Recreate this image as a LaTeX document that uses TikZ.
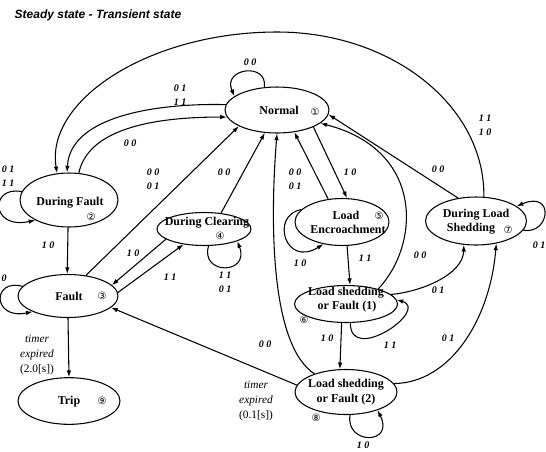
\documentclass[tikz,border=0pt]{standalone}
\usepackage{fontspec}
\setmainfont{Liberation Serif}
\newfontfamily\titulo{Liberation Sans}
\newfontfamily\cifra{DejaVu Sans}
\usetikzlibrary{arrows.meta,shapes.geometric}

\begin{document}
\begin{tikzpicture}[x=0.75pt, y=0.75pt,
    estado/.style={draw, ellipse, line width=0.8pt, inner sep=0pt},
    nombre/.style={font=\fontsize{9}{10}\selectfont\bfseries, inner sep=0pt},
    num/.style={font=\fontsize{7.5}{8}\selectfont\cifra, inner sep=0pt},
    rot/.style={font=\fontsize{7.5}{10.5}\selectfont\bfseries\itshape, align=center, inner sep=0pt},
    reloj/.style={font=\fontsize{8.5}{11}\selectfont\itshape, align=center, inner sep=0pt},
    flecha/.style={-{Latex[length=5pt,width=3.4pt]}, line width=0.8pt}]
  \useasboundingbox (0,0) rectangle (546,-451);
  \node[anchor=west, font=\fontsize{9}{10}\selectfont\titulo\bfseries\itshape] (titulo) at (10,-15) {Steady state - Transient state};
  % estados
  \node[estado, minimum width=78pt, minimum height=34.5pt] (normal) at (277,-110) {};
  \node[estado, minimum width=73.5pt, minimum height=40.5pt] (durfault) at (69,-200) {};
  \node[estado, minimum width=70.5pt, minimum height=24.75pt] (durclear) at (204,-229) {};
  \node[estado, minimum width=75pt, minimum height=32.25pt] (fault) at (68,-296) {};
  \node[estado, minimum width=76.5pt, minimum height=35pt] (trip) at (69,-401) {};
  \node[estado, minimum width=70.5pt, minimum height=35.25pt] (encroach) at (342,-222) {};
  \node[estado, minimum width=75.75pt, minimum height=36pt] (durshed) at (476,-221) {};
  \node[estado, minimum width=77.25pt, minimum height=27.75pt] (shedone) at (346,-304) {};
  \node[estado, minimum width=76.5pt, minimum height=33.75pt] (shedtwo) at (346,-392) {};
  % nombres
  \node[nombre] (tnormal) at (279,-110) {Normal};
  \node[num] (cnormal) at (315,-112) {①};
  \node[nombre] (tdurfault) at (70,-203) {During Fault};
  \node[num] (cdurfault) at (91,-217) {②};
  \node[nombre] (tdurclear) at (207,-223) {During Clearing};
  \node[num] (cdurclear) at (220,-236) {④};
  \node[nombre] (tfault) at (69,-296) {Fault};
  \node[num] (cfault) at (102,-296) {③};
  \node[nombre] (ttrip) at (69,-402) {Trip};
  \node[num] (ctrip) at (102,-401) {⑨};
  \node[nombre] (tencroach) at (346,-215) {Load};
  \node[num] (cencroach) at (379,-216) {⑤};
  \node[nombre] (tencroachb) at (348,-229) {Encroachment};
  \node[nombre] (tdurshed) at (476,-215) {During Load};
  \node[nombre] (tdurshedb) at (471,-229) {Shedding};
  \node[num] (cdurshed) at (508,-230) {⑦};
  \node[nombre] (tshedone) at (346,-293) {Load shedding};
  \node[nombre] (tshedoneb) at (347,-307) {or Fault (1)};
  \node[num] (cshedone) at (304,-320) {⑥};
  \node[nombre] (tshedtwo) at (346,-385) {Load shedding};
  \node[nombre] (tshedtwob) at (346,-400) {or Fault (2)};
  \node[num] (cshedtwo) at (316,-418) {⑧};
  % transiciones
  \draw[flecha] (normal.119) .. controls (268,-62) and (222,-68) .. (normal.162);
  \draw[flecha] (durshed.72) .. controls (485,-106) and (392,-32) .. (277,-32)
                .. controls (150,-32) and (45,-100) .. (durfault.114);
  \draw[flecha] (normal.174) .. controls (160,-103) and (70,-115) .. (durfault.94);
  \draw[flecha] (durfault.70) .. controls (88,-130) and (150,-117) .. (normal.188);
  \draw[flecha] (durfault.170) .. controls (-10,-185) and (-10,-230) .. (durfault.211);
  \draw[flecha] (durfault.268) -- (fault.92);
  \draw[flecha] (fault.168) .. controls (-8,-278) and (-8,-320) .. (fault.204);
  \draw[flecha] (fault.49) -- (normal.203);
  \draw[flecha] (durclear.43) -- (normal.242);
  \draw[flecha] (durclear.195) -- (fault.14);
  \draw[flecha] (fault.4) -- (durclear.217);
  \draw[flecha] (durclear.285) .. controls (200,-275) and (250,-275) .. (durclear.340);
  \draw[flecha] (fault.270) -- (trip.90);
  \draw[flecha] (shedtwo.172) -- (fault.345);
  \draw[flecha] (shedtwo.150) .. controls (270,-345) and (270,-220) .. (normal.270);
  \draw[flecha] (encroach.121) -- (normal.308);
  \draw[flecha] (normal.335) -- (encroach.78);
  \draw[flecha] (encroach.163) .. controls (270,-215) and (285,-268) .. (encroach.230);
  \draw[flecha] (encroach.282) -- (shedone.78);
  \draw[flecha] (shedone.25) .. controls (420,-245) and (425,-150) .. (normal.343);
  \draw[flecha] (durshed.128) -- (normal.355);
  \draw[flecha] (durshed.349) .. controls (550,-235) and (555,-190) .. (durshed.20);
  \draw[flecha] (shedone.12) .. controls (420,-292) and (463,-275) .. (durshed.243);
  \draw[flecha] (shedone.283) .. controls (350,-365) and (430,-310) .. (shedone.5);
  \draw[flecha] (shedone.257) -- (shedtwo.105);
  \draw[flecha] (shedtwo.10) .. controls (450,-383) and (490,-320) .. (durshed.312);
  \draw[flecha] (shedtwo.280) .. controls (345,-445) and (395,-445) .. (shedtwo.330);
  % rotulos
  \node[rot] (rnormal) at (250,-62) {0 0};
  \node[rot] (rnormdf) at (180,-95.5) {0 1\\1 1};
  \node[rot] (rdfnorm) at (130,-143) {0 0};
  \node[rot] (rarco) at (485,-125.5) {1 1\\1 0};
  \node[rot] (rdf) at (8,-176) {0 1\\1 1};
  \node[rot] (rdffault) at (48,-245) {1 0};
  \node[rot] (rfault) at (4,-278) {0};
  \node[rot] (rfaultnorm) at (153,-179.5) {0 0\\0 1};
  \node[rot] (rdcnorm) at (224,-172) {0 0};
  \node[rot] (rdcfault) at (133,-253) {1 0};
  \node[rot] (rfaultdc) at (170,-277) {1 1};
  \node[rot] (rdc) at (225,-282) {1 1\\0 1};
  \node[reloj] (rtrip) at (37,-355) {timer\\expired\\{\upshape (2.0[s])}};
  \node[reloj] (rtimer) at (256,-401) {timer\\expired\\{\upshape (0.1[s])}};
  \node[rot] (rtwonorm) at (265,-344) {0 0};
  \node[rot] (rencnorm) at (295,-179.5) {0 0\\0 1};
  \node[rot] (rnormenc) at (350,-172) {1 0};
  \node[rot] (renc) at (300,-263) {1 0};
  \node[rot] (rencone) at (365,-258) {1 1};
  \node[rot] (ronenorm) at (420,-255) {0 0};
  \node[rot] (rshednorm) at (438,-169) {0 0};
  \node[rot] (roneshed) at (438,-290) {0 1};
  \node[rot] (rshed) at (539,-245) {0 1};
  \node[rot] (ronetwo) at (327,-338) {1 0};
  \node[rot] (rone) at (390,-345) {1 1};
  \node[rot] (rtwoshed) at (448,-338) {0 1};
  \node[rot] (rtwo) at (363,-445) {1 0};
\end{tikzpicture}
\end{document}
